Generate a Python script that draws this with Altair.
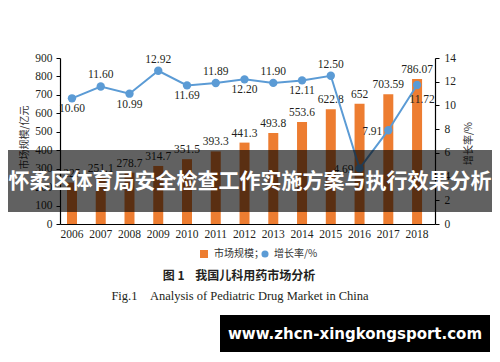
import altair as alt
import pandas as pd

years = ["2006", "2007", "2008", "2009", "2010", "2011", "2012",
         "2013", "2014", "2015", "2016", "2017", "2018"]
market = [225, 251.1, 278.7, 314.7, 351.5, 393.3, 441.3, 493.8, 553.6, 622.8, 652, 703.59, 786.07]
market_labels = ["225", "251.1", "278.7", "314.7", "351.5", "393.3", "441.3",
                 "493.8", "553.6", "622.8", "652", "703.59", "786.07"]
growth = [10.60, 11.60, 10.99, 12.92, 11.69, 11.89, 12.20, 11.90, 12.11, 12.50, 4.69, 7.91, 11.72]
growth_labels = ["10.60", "11.60", "10.99", "12.92", "11.69", "11.89", "12.20",
                 "11.90", "12.11", "12.50", "4.69", "7.91", "11.72"]
series_names = ["市场规模；", "增长率/%"]
left_ticks = [0, 100, 200, 300, 400, 500, 600, 700, 800, 900]
right_ticks = [0, 2, 4, 6, 8, 10, 12, 14]

# label placement for the growth-rate annotations
above_years = ["2007", "2009", "2011", "2013", "2015"]
below_years = ["2006", "2008", "2010", "2012", "2014"]
left_years = ["2016", "2017"]
belowright_years = ["2018"]

df = pd.DataFrame({
    "year": years,
    "market": market,
    "market_label": market_labels,
    "growth": growth,
    "growth_label": growth_labels,
    "s_bar": [series_names[0]] * len(years),
    "s_line": [series_names[1]] * len(years),
})

ORANGE = "#ed7d31"
BLUE = "#5b9bd5"
SERIF = "Liberation Serif"
CJK = "Noto Sans CJK SC"
INK = "#231f20"
NB = "\u00a0"

xenc = alt.X("year:N", sort=years,
             scale=alt.Scale(paddingInner=0.65, paddingOuter=0.345, align=0.35),
             axis=alt.Axis(title=None, labelAngle=0, ticks=False, domainColor="black",
                           domainWidth=1.2, labelFont=SERIF, labelFontSize=11.5,
                           labelColor=INK, labelPadding=4, labelOverlap=False))

left_axis = alt.Axis(values=left_ticks, tickCount=10, grid=False, domainColor="black",
                     domainWidth=1.2, tickColor="black", tickSize=4, labelPadding=4,
                     labelFont=SERIF, labelFontSize=11.5, labelColor=INK, labelOverlap=False,
                     labelFlush=False,
                     title="市场规模/亿元", titleFont=CJK, titleFontSize=10,
                     titleFontWeight="normal", titleColor="#333333", titleAngle=270,
                     titleX=-36, titleY=79, titleAlign="center", titleBaseline="middle")

right_axis = alt.Axis(orient="right", values=right_ticks, tickCount=8, grid=False,
                      domainColor="black", domainWidth=1.2, tickColor="black", tickSize=4,
                      labelPadding=5, labelFont=SERIF, labelFontSize=11.5, labelColor=INK,
                      labelOverlap=False, labelFlush=False,
                      title="增长率/%", titleFont=CJK, titleFontSize=10,
                      titleFontWeight="normal", titleColor="#333333", titleAngle=270,
                      titleX=33, titleY=85, titleAlign="center", titleBaseline="middle")

ym = alt.Y("market:Q", scale=alt.Scale(domain=[0, 900], nice=False, zero=True), axis=left_axis)
yg = alt.Y("growth:Q", scale=alt.Scale(domain=[0, 14], nice=False, zero=True), axis=right_axis)

base = alt.Chart(df)

bars = base.mark_bar(size=10).encode(
    x=xenc,
    y=ym,
    color=alt.Color("s_bar:N", scale=alt.Scale(domain=[series_names[0]], range=[ORANGE]),
                    legend=alt.Legend(orient="none", legendX=139, legendY=191, title=None,
                                      symbolType="square", symbolSize=64, labelFont=CJK,
                                      labelFontSize=10, labelColor="#333333", padding=0,
                                      labelOffset=5)),
)
bar_text = base.mark_text(baseline="middle", dy=-9, font=SERIF, fontSize=11.5, color=INK).encode(
    x=xenc,
    y=ym,
    text="market_label:N",
)
left_layer = alt.layer(bars, bar_text)

line = base.mark_line(color=BLUE, strokeWidth=2).encode(x=xenc, y=yg)
pts = base.mark_circle(size=70, opacity=1).encode(
    x=xenc, y=yg,
    color=alt.Color("s_line:N", scale=alt.Scale(domain=[series_names[1]], range=[BLUE]),
                    legend=alt.Legend(orient="none", legendX=200, legendY=191, title=None,
                                      symbolType="circle", symbolSize=50, labelFont=CJK,
                                      labelFontSize=10, labelColor="#333333", padding=0,
                                      labelOffset=4)),
)


def glabels(sel, **kw):
    return base.transform_filter(
        alt.FieldOneOfPredicate(field="year", oneOf=sel)
    ).mark_text(font=SERIF, fontSize=11.5, color=INK, **kw).encode(
        x=xenc, y=yg, text="growth_label:N")


g_above = glabels(above_years, baseline="middle", dy=-11)
g_below = glabels(below_years, baseline="middle", dy=11)
g_left = glabels(left_years, baseline="middle", align="right", dx=-6, dy=2)
g_br = glabels(belowright_years, baseline="middle", dx=5, dy=15)

right_layer = alt.layer(line, pts, g_above, g_below, g_left, g_br)

one = pd.DataFrame({"k": [0]})
dec = alt.Chart(one)

title1 = dec.mark_text(font=CJK, fontSize=12, fontWeight="bold", color=INK).encode(
    x=alt.value(179), y=alt.value(218),
    text=alt.value("图" + NB + "1" + NB * 4 + "我国儿科用药市场分析"))
title2 = dec.mark_text(font=SERIF, fontSize=12.5, color=INK).encode(
    x=alt.value(180), y=alt.value(238),
    text=alt.value("Fig.1" + NB * 4 + "Analysis of Pediatric Drug Market in China"))

banner = dec.mark_rect(color="black", opacity=0.62).encode(
    x=alt.value(-52), x2=alt.value(432), y=alt.value(92), y2=alt.value(154))
banner_text = dec.mark_text(font=CJK, fontSize=21, fontWeight="bold", color="white").encode(
    x=alt.value(190), y=alt.value(124),
    text=alt.value("怀柔区体育局安全检查工作实施方案与执行效果分析"))

wm = dec.mark_rect(color="black").encode(
    x=alt.value(160), x2=alt.value(430), y=alt.value(257), y2=alt.value(294))
wm_text = dec.mark_text(font="DejaVu Sans", fontSize=15, fontWeight="bold", color="white").encode(
    x=alt.value(295), y=alt.value(276), text=alt.value("www.zhcn-xingkongsport.com"))

chart = alt.layer(
    left_layer, right_layer, title1, title2, banner, banner_text, wm, wm_text
).resolve_scale(y="independent", color="independent").properties(
    width=375, height=166,
    autosize=alt.AutoSizeParams(type="none"),
    padding={"left": 52, "top": 50, "right": 57, "bottom": 128},
).configure_view(stroke=None)

chart.save("out.html", embed_options={"renderer": "svg", "actions": False})
